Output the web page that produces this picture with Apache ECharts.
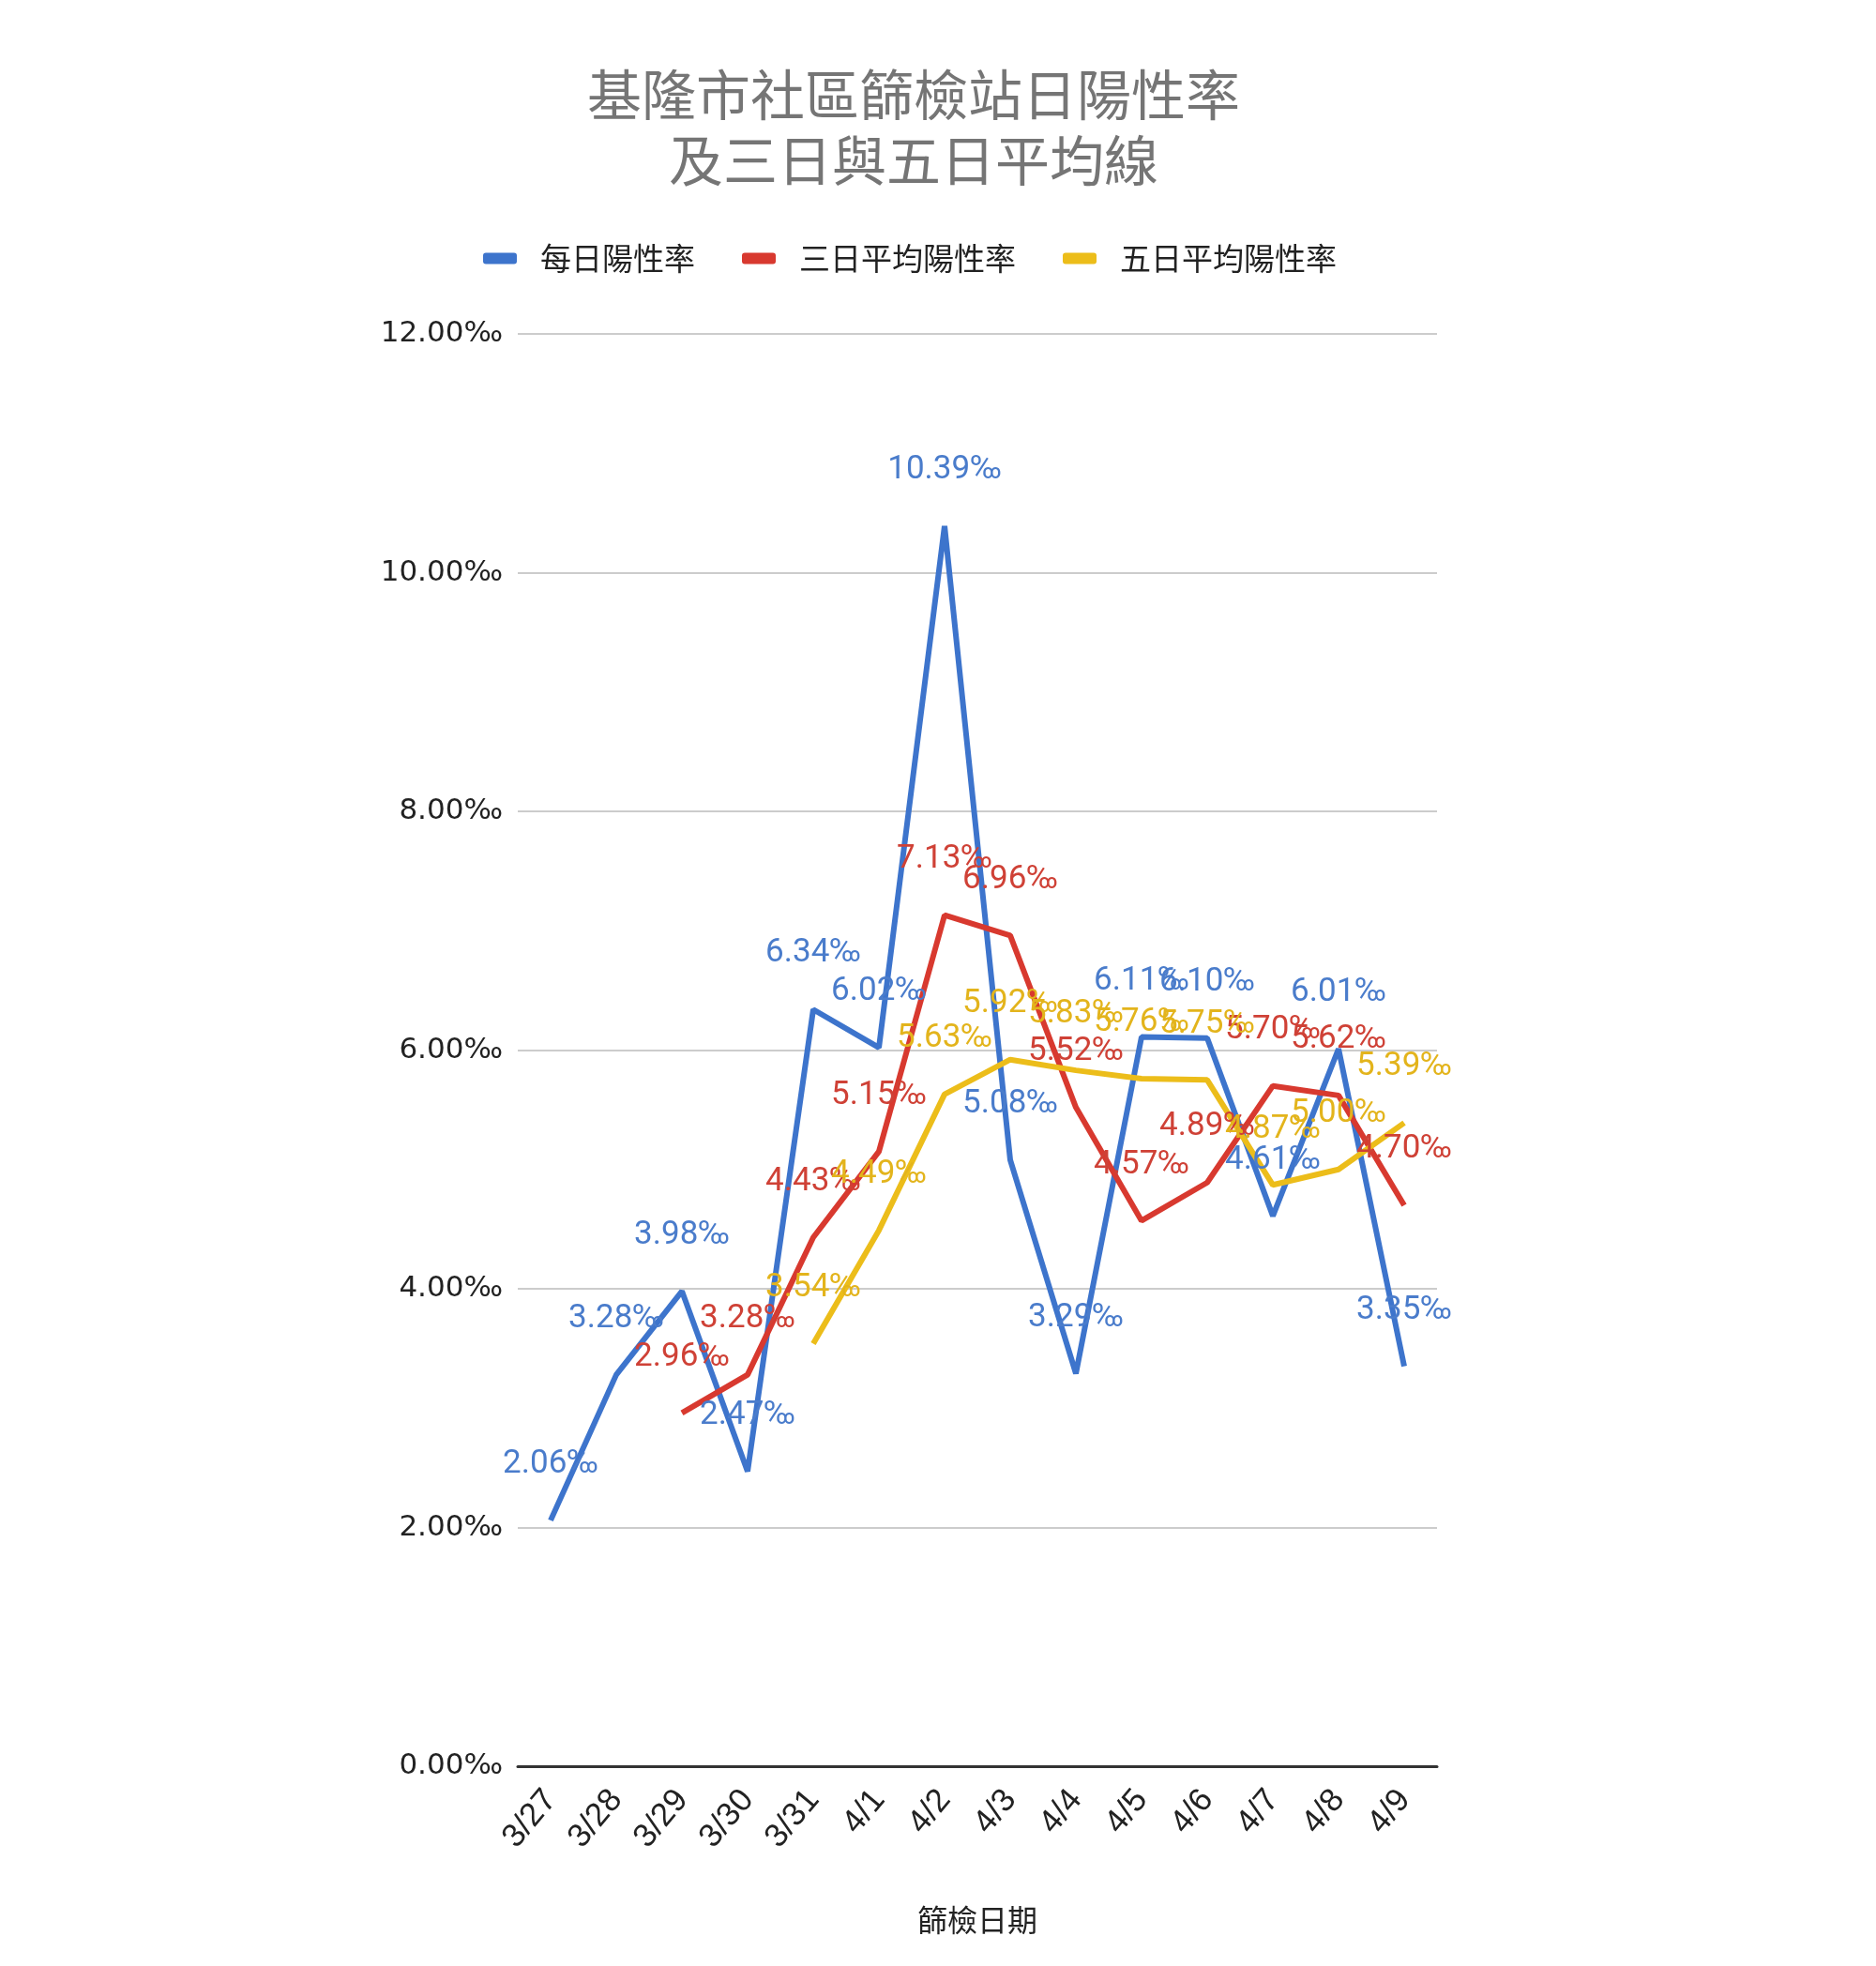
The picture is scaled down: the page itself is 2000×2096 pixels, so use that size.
<!DOCTYPE html>
<html><head><meta charset="utf-8">
<script src="https://cdn.jsdelivr.net/npm/echarts@6/dist/echarts.min.js"></script>
<style>html,body{margin:0;padding:0;background:#fff}#c{width:2000px;height:2096px}</style>
</head><body><div id="c"></div>
<script>
const dates = ['3/27','3/28','3/29','3/30','3/31','4/1','4/2','4/3','4/4','4/5','4/6','4/7','4/8','4/9'];
const daily = [2.06, 3.28, 3.98, 2.47, 6.34, 6.02, 10.39, 5.08, 3.29, 6.11, 6.10, 4.61, 6.01, 3.35];
const avg3 = [null, null, 2.96, 3.28, 4.43, 5.15, 7.13, 6.96, 5.52, 4.57, 4.89, 5.70, 5.62, 4.70];
const avg5 = [null, null, null, null, 3.54, 4.49, 5.63, 5.92, 5.83, 5.76, 5.75, 4.87, 5.00, 5.39];
const yTicks = [0, 2, 4, 6, 8, 10, 12];
const names = ['每日陽性率', '三日平均陽性率', '五日平均陽性率'];
const colors = ['#3d74cc', '#d8392f', '#ecbd1a'];
const labelColors = ['#4a7ccb', '#cf4136', '#e3b41c'];

const chart = echarts.init(document.getElementById('c'), null, {renderer: 'canvas'});
function mk(name, data, i) {
  return {
    name, type: 'line', data,
    symbol: 'circle', symbolSize: 0.01, showSymbol: true,
    itemStyle: {color: colors[i]},
    lineStyle: {width: 6, color: colors[i]},
    label: {
      show: true, position: 'top', distance: 42,
      color: labelColors[i], fontSize: 35, fontFamily: 'Roboto',
      formatter: p => p.value == null ? '' : p.value.toFixed(2) + '‰'
    },
    emphasis: {disabled: true},
    connectNulls: false
  };
}
chart.setOption({
  animation: false,
  backgroundColor: '#fff',
  title: {
    text: '基隆市社區篩檢站日陽性率\n及三日與五日平均線',
    left: 969, top: 61, textAlign: 'center',
    textStyle: {fontSize: 58, lineHeight: 70, fontWeight: 'normal', color: '#757575', fontFamily: 'Noto Sans CJK TC'}
  },
  legend: {
    data: names, left: 510, top: 254,
    itemWidth: 36, itemHeight: 12, itemGap: 50,
    icon: 'roundRect',
    textStyle: {fontSize: 33, color: '#222', fontFamily: 'Noto Sans CJK TC', padding: [0, 0, 0, 20]}
  },
  grid: {left: 552, right: 468, top: 356, bottom: 213, containLabel: false},
  xAxis: {
    type: 'category', data: dates, boundaryGap: true,
    axisLine: {show: true, lineStyle: {color: '#333', width: 3}},
    axisTick: {show: false},
    axisLabel: {rotate: 50, fontSize: 35, color: '#222', fontFamily: 'Liberation Sans', margin: 30, interval: 0},
    name: '篩檢日期', nameLocation: 'middle', nameGap: 148,
    nameTextStyle: {fontSize: 32, color: '#222', fontFamily: 'Noto Sans CJK TC'}
  },
  yAxis: {
    type: 'value', min: yTicks[0], max: yTicks[yTicks.length - 1], interval: 2,
    axisLine: {show: false}, axisTick: {show: false},
    splitLine: {lineStyle: {color: '#cccccc', width: 2}},
    axisLabel: {fontSize: 31, color: '#222', fontFamily: 'DejaVu Sans', margin: 16,
      formatter: v => v.toFixed(2) + '‰'}
  },
  series: [mk(names[0], daily, 0), mk(names[1], avg3, 1), mk(names[2], avg5, 2)]
});
</script></body></html>
